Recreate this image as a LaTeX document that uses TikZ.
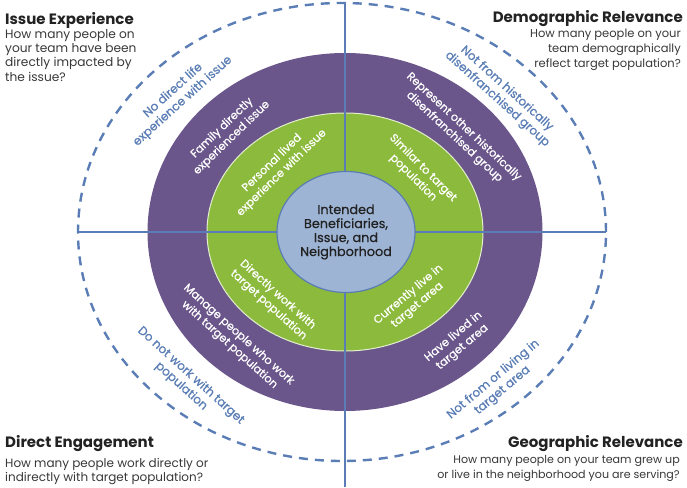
\documentclass[tikz,border=0pt]{standalone}
\usepackage{fontspec}
\setmainfont{Poppins}
\newfontfamily\medfont{Poppins}[FakeBold=0.7]
\usetikzlibrary{shapes.geometric}
\definecolor{purp}{HTML}{6A568B}
\definecolor{grn}{HTML}{8CBA3C}
\definecolor{ctr}{HTML}{9DB4D4}
\definecolor{lblue}{HTML}{5A7DB5}
\definecolor{ink}{HTML}{222222}
\begin{document}
\begin{tikzpicture}[x=1pt,y=1pt,
  dashring/.style={draw=lblue, line width=2.4pt, dash pattern=on 9pt off 7pt},
  divider/.style={draw=lblue, line width=1.8pt},
  ringtxt/.style={text=white, align=center, font=\medfont\fontsize{11.2}{13.8}\selectfont, inner sep=0},
  outtxt/.style={text=lblue, align=center, font=\medfont\fontsize{12}{14.3}\selectfont, inner sep=0},
  head/.style={text=ink, font=\bfseries\fontsize{15}{18}\selectfont, inner sep=0},
  body/.style={text=ink!90, inner sep=0}
]
\useasboundingbox (0,0) rectangle (687,487);
% rings
\draw[dashring] (342,255) ellipse [x radius=264, y radius=229];
\fill[purp] (345,255) ellipse [x radius=197.5, y radius=179];
\draw[fill=grn, draw=white!75!grn, line width=1pt] (345,255) ellipse [x radius=138, y radius=119];
% dividers
\coordinate (L) at (78,255);
\coordinate (R) at (606,255);
\coordinate (T) at (345,485);
\coordinate (B) at (345,0);
\draw[divider] (L) -- (R);
\draw[divider] (T) -- (B);
% core
\node[ellipse, draw=lblue, line width=1.2pt, fill=ctr, minimum width=138pt, minimum height=121pt, inner sep=0,
      align=center, text=ink, font=\medfont\fontsize{12.8}{14}\selectfont] (core) at (346,255)
  {Intended\\Beneficiaries,\\Issue, and\\Neighborhood};
% corner titles
\node[head, anchor=base west] (h1) at (5,462) {Issue Experience};
\node[body, font=\fontsize{12.2}{14.3}\selectfont, anchor=north west, align=left] (b1) at (5,458) {How many people on\\your team have been\\directly impacted by\\the issue?};
\node[head, anchor=base east] (h2) at (683,464) {Demographic Relevance};
\node[body, font=\fontsize{11.5}{15}\selectfont, anchor=north east, align=right] (b2) at (681,458.5) {How many people on your\\team demographically\\reflect target population?};
\node[head, anchor=base west] (h3) at (5,40) {Direct Engagement};
\node[body, font=\fontsize{12}{14}\selectfont, anchor=north west, align=left] (b3) at (5,29) {How many people work directly or\\indirectly with target population?};
\node[head, anchor=base east] (h4) at (683,40) {Geographic Relevance};
\node[body, font=\fontsize{11.1}{15}\selectfont, anchor=north east, align=right] (b4) at (680,32) {How many people on your team grew up\\or live in the neighborhood you are serving?};
% top-left quadrant
\node[outtxt, rotate=42] (q1a) at (178,391) {No direct life\\experience with issue};
\node[ringtxt, rotate=44] (q1b) at (227,354) {Family directly\\experienced issue};
\node[ringtxt, rotate=44] (q1c) at (277,319) {Personal lived\\experience with issue};
% top-right quadrant
\node[outtxt, rotate=-42] (q2a) at (502,393) {Not from historically\\disenfranchised group};
\node[ringtxt, rotate=-43] (q2b) at (459,355) {Represent other historically\\disenfranchised group};
\node[ringtxt, rotate=-45] (q2c) at (418,314) {Similar to target\\population};
% bottom-left quadrant
\node[ringtxt, rotate=-42] (q3c) at (273,187) {Directly work with\\target population};
\node[ringtxt, rotate=-42] (q3b) at (234,147) {Manage people who work\\with target population};
\node[outtxt, rotate=-42] (q3a) at (186,106) {Do not work with target\\population};
% bottom-right quadrant
\node[ringtxt, rotate=40] (q4c) at (413,187) {Currently live in\\target area};
\node[ringtxt, rotate=40] (q4b) at (458,145) {Have lived in\\target area};
\node[outtxt, rotate=40] (q4a) at (498,102) {Not from or living in\\target area};
\end{tikzpicture}
\end{document}
